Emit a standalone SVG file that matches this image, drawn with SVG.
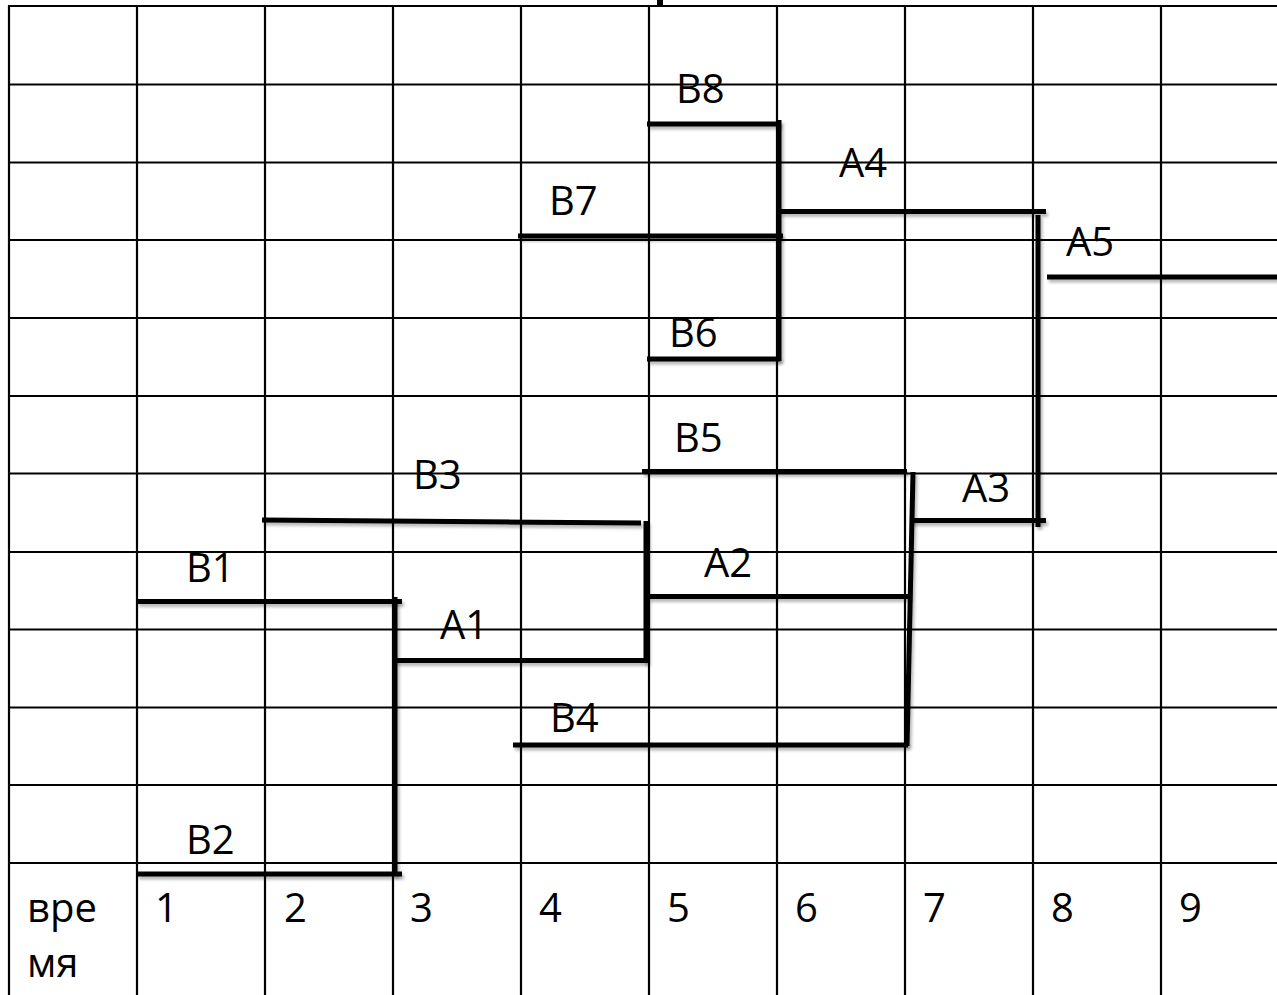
<svg xmlns="http://www.w3.org/2000/svg" width="1277" height="995" viewBox="0 0 1277 995">
<defs>
<style>
.grid line{stroke:#000;stroke-width:2.2}
.bold{stroke:#000;stroke-width:5;stroke-linecap:butt;fill:none}
.lbl{font-family:"Open Sans","Liberation Sans",sans-serif;font-size:40px;fill:#000}
</style>
<filter id="sh" filterUnits="userSpaceOnUse" x="0" y="0" width="1277" height="995">
<feDropShadow dx="2" dy="3" stdDeviation="1.8" flood-color="#000" flood-opacity="0.28"/>
</filter>
</defs>
<rect width="1277" height="995" fill="#fff"/>
<g id="grid" class="grid">
<line x1="9" y1="6" x2="1277" y2="6"/>
<line x1="9" y1="84.5" x2="1277" y2="84.5"/>
<line x1="9" y1="162.5" x2="1277" y2="162.5"/>
<line x1="9" y1="240" x2="1277" y2="240"/>
<line x1="9" y1="318" x2="1277" y2="318"/>
<line x1="9" y1="396" x2="1277" y2="396"/>
<line x1="9" y1="473.5" x2="1277" y2="473.5"/>
<line x1="9" y1="552" x2="1277" y2="552"/>
<line x1="9" y1="629.5" x2="1277" y2="629.5"/>
<line x1="9" y1="707.5" x2="1277" y2="707.5"/>
<line x1="9" y1="785" x2="1277" y2="785"/>
<line x1="9" y1="863" x2="1277" y2="863"/>
<line x1="9" y1="5" x2="9" y2="995"/>
<line x1="137" y1="5" x2="137" y2="995"/>
<line x1="265" y1="5" x2="265" y2="995"/>
<line x1="393" y1="5" x2="393" y2="995"/>
<line x1="521" y1="5" x2="521" y2="995"/>
<line x1="649" y1="5" x2="649" y2="995"/>
<line x1="777" y1="5" x2="777" y2="995"/>
<line x1="905" y1="5" x2="905" y2="995"/>
<line x1="1033" y1="5" x2="1033" y2="995"/>
<line x1="1161" y1="5" x2="1161" y2="995"/>
</g>
<rect x="657" y="0" width="6" height="6" fill="#000"/>
<g id="axis" class="lbl">
<text x="27" y="922">вре</text>
<text x="27" y="977">мя</text>
<text x="155" y="922">1</text>
<text x="284" y="922">2</text>
<text x="410" y="922">3</text>
<text x="539" y="922">4</text>
<text x="667" y="922">5</text>
<text x="795" y="922">6</text>
<text x="923" y="922">7</text>
<text x="1051" y="922">8</text>
<text x="1179" y="922">9</text>
</g>
<g id="connectors" class="bold" filter="url(#sh)">
<line x1="779" y1="120" x2="779" y2="361"/>
<line x1="1038" y1="215" x2="1038" y2="527"/>
<line x1="913" y1="472" x2="907" y2="746"/>
<line x1="646" y1="521" x2="646" y2="663"/>
<line x1="395" y1="597" x2="395" y2="876"/>
</g>
<g id="B8"><line class="bold" filter="url(#sh)" x1="647" y1="124" x2="780" y2="124"/><text class="lbl" x="676" y="103">B8</text></g>
<g id="A4"><line class="bold" filter="url(#sh)" x1="780" y1="211.5" x2="1046" y2="211.5"/><text class="lbl" x="839" y="177">A4</text></g>
<g id="B7"><line class="bold" filter="url(#sh)" x1="518" y1="236" x2="783" y2="236"/><text class="lbl" x="549" y="215">B7</text></g>
<g id="A5"><line class="bold" filter="url(#sh)" x1="1047" y1="277" x2="1277" y2="277"/><text class="lbl" x="1066" y="256">A5</text></g>
<g id="B6"><line class="bold" filter="url(#sh)" x1="647" y1="359" x2="780" y2="359"/><text class="lbl" x="669" y="347">B6</text></g>
<g id="B5"><line class="bold" filter="url(#sh)" x1="642" y1="471.5" x2="907" y2="471.5"/><text class="lbl" x="674" y="452">B5</text></g>
<g id="B3"><line class="bold" filter="url(#sh)" x1="262" y1="520" x2="641" y2="523"/><text class="lbl" x="413" y="489">B3</text></g>
<g id="A3"><line class="bold" filter="url(#sh)" x1="910" y1="520.5" x2="1046" y2="520.5"/><text class="lbl" x="962" y="502">A3</text></g>
<g id="A2"><line class="bold" filter="url(#sh)" x1="648" y1="596.5" x2="910" y2="596.5"/><text class="lbl" x="704" y="577">A2</text></g>
<g id="B1"><line class="bold" filter="url(#sh)" x1="137" y1="601.5" x2="402" y2="601.5"/><text class="lbl" x="186" y="582">B1</text></g>
<g id="A1"><line class="bold" filter="url(#sh)" x1="395" y1="660.5" x2="646" y2="660.5"/><text class="lbl" x="440" y="639">A1</text></g>
<g id="B4"><line class="bold" filter="url(#sh)" x1="513" y1="745" x2="908" y2="745"/><text class="lbl" x="550" y="732">B4</text></g>
<g id="B2"><line class="bold" filter="url(#sh)" x1="137" y1="874" x2="402" y2="874"/><text class="lbl" x="186" y="854">B2</text></g>
</svg>
